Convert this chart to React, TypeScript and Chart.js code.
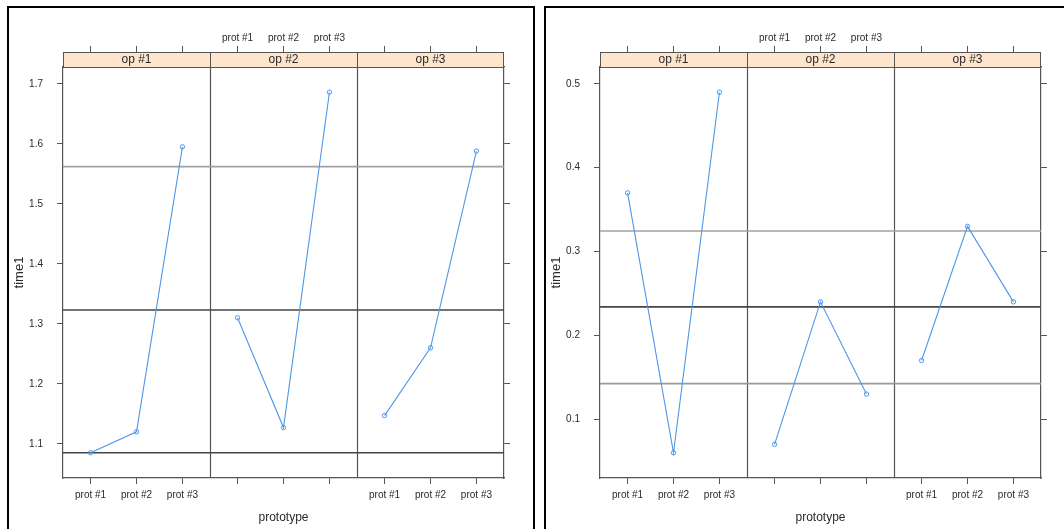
import React, { useEffect, useRef } from "react";
import { Chart, registerables } from "chart.js";

Chart.register(...registerables);

// ---------- data ----------
const prototypes = ["prot #1", "prot #2", "prot #3"];
const operators = ["op #1", "op #2", "op #3"];

// left figure: time1 per operator (rows) and prototype (columns)
const leftOp1 = [1.085, 1.12, 1.595];
const leftOp2 = [1.31, 1.127, 1.686];
const leftOp3 = [1.147, 1.26, 1.588];
const leftRefLines = [1.562, 1.323, 1.085];
const leftRefColors = ["#a2a2a2", "#454545", "#454545"];
const leftYTicks = [1.1, 1.2, 1.3, 1.4, 1.5, 1.6, 1.7];

// right figure
const rightOp1 = [0.37, 0.06, 0.49];
const rightOp2 = [0.07, 0.24, 0.13];
const rightOp3 = [0.17, 0.33, 0.24];
const rightRefLines = [0.3245, 0.234, 0.1425];
const rightRefColors = ["#a2a2a2", "#454545", "#9a9a9a"];
const rightYTicks = [0.1, 0.2, 0.3, 0.4, 0.5];

const yTitle = "time1";
const xTitle = "prototype";

// ---------- styles ----------
const FONT = "'Liberation Sans', Arial, sans-serif";
const BLUE = "#4f97e6";
const AXIS = "#555555";
const TEXT = "#2a2a2a";
const STRIP = "#FFE5CC";

type FigProps = {
  series: number[][];
  refLines: number[];
  refColors: string[];
  yTicks: number[];
  canvasWidth: number;
};

const CANVAS_H = 529;
const PLOT_LEFT = 63;
const PLOT_RIGHT = 504;
const PLOT_TOP = 67;
const PLOT_BOTTOM = 478;
const STRIP_H = 15;

function LatticeFigure({ series, refLines, refColors, yTicks, canvasWidth }: FigProps) {
  const ref = useRef<HTMLCanvasElement>(null);

  useEffect(() => {
    const canvas = ref.current;
    if (!canvas) return;
    const all = series.flat();
    const lo = Math.min(...all);
    const hi = Math.max(...all);
    const pad = 0.07 * (hi - lo);
    const yMin = lo - pad;
    const yMax = hi + pad;

    const nP = operators.length;
    const nC = prototypes.length;
    const span = nC + 0.2; // lattice factor limits: 0.4 .. n+0.6
    const xMax = nP * span;
    const pos = (p: number, j: number) => p * span + j + 0.6;
    const xTickVals: number[] = [];
    for (let p = 0; p < nP; p++) for (let j = 0; j < nC; j++) xTickVals.push(pos(p, j));

    const xLabel = (index: number, panels: number[]) => {
      const p = Math.floor(index / nC);
      return panels.includes(p) ? prototypes[index % nC] : "";
    };

    const lattice = {
      id: "lattice",
      beforeDatasetsDraw(chart: any) {
        const { ctx, chartArea: a, scales } = chart;
        const xs = scales.x;
        ctx.save();
        ctx.strokeStyle = AXIS;
        ctx.lineWidth = 1.2;
        for (let p = 1; p < nP; p++) {
          const px = Math.round(xs.getPixelForValue(p * span)) + 0.5;
          ctx.beginPath();
          ctx.moveTo(px, a.top);
          ctx.lineTo(px, a.bottom);
          ctx.stroke();
        }
        ctx.restore();
      },
      afterDraw(chart: any) {
        const { ctx, chartArea: a, scales } = chart;
        const xs = scales.x;
        const top = a.top - STRIP_H;
        ctx.save();
        ctx.fillStyle = STRIP;
        ctx.fillRect(a.left, top, a.right - a.left, STRIP_H);
        ctx.strokeStyle = AXIS;
        ctx.lineWidth = 1;
        ctx.strokeRect(a.left + 0.5, top + 0.5, a.right - a.left - 1, STRIP_H);
        ctx.font = `12px ${FONT}`;
        ctx.fillStyle = TEXT;
        ctx.textAlign = "center";
        ctx.textBaseline = "middle";
        for (let p = 0; p < nP; p++) {
          const l = xs.getPixelForValue(p * span);
          const r = xs.getPixelForValue((p + 1) * span);
          if (p > 0) {
            const px = Math.round(l) + 0.5;
            ctx.beginPath();
            ctx.moveTo(px, top);
            ctx.lineTo(px, a.top);
            ctx.stroke();
          }
          ctx.fillText(operators[p], (l + r) / 2, top + STRIP_H / 2 + 0.5);
        }
        ctx.restore();
      },
    };

    const tickFont = { family: FONT, size: 10 };
    const setX = (s: any) => {
      s.ticks = xTickVals.map((v) => ({ value: v }));
    };
    const setY = (s: any) => {
      s.ticks = yTicks.map((v) => ({ value: v }));
    };
    const gridCfg = (len: number) => ({
      drawOnChartArea: false,
      drawTicks: true,
      tickLength: len,
      color: AXIS,
      lineWidth: 1,
    });
    const borderCfg = { display: true, color: AXIS, width: 1.2 };

    const chart = new Chart(canvas, {
      type: "line",
      data: {
        datasets: [
          ...series.map((vals, p) => ({
            label: operators[p],
            data: vals.map((v, j) => ({ x: pos(p, j), y: v })),
            borderColor: BLUE,
            borderWidth: 1.1,
            pointRadius: 2.2,
            pointBorderWidth: 1,
            pointBorderColor: BLUE,
            pointBackgroundColor: "rgba(255,255,255,0)",
            tension: 0,
            order: 0,
          })),
          ...refLines.map((v, i) => ({
            label: "ref" + i,
            data: [
              { x: 0, y: v },
              { x: xMax, y: v },
            ],
            borderColor: refColors[i],
            borderWidth: 1.6,
            pointRadius: 0,
            order: 1,
          })),
        ],
      },
      options: {
        animation: false,
        responsive: false,
        maintainAspectRatio: false,
        layout: { padding: 0 },
        plugins: {
          legend: { display: false },
          tooltip: { enabled: false },
          title: { display: false },
        },
        scales: {
          x: {
            type: "linear",
            position: "bottom",
            min: 0,
            max: xMax,
            afterBuildTicks: setX,
            afterFit: (s: any) => {
              s.height = CANVAS_H - PLOT_BOTTOM;
            },
            grid: gridCfg(6),
            border: borderCfg,
            ticks: {
              autoSkip: false,
              maxRotation: 0,
              padding: 5,
              color: TEXT,
              font: tickFont,
              callback: (_v: any, i: number) => xLabel(i, [0, 2]),
            },
            title: {
              display: true,
              text: xTitle,
              color: TEXT,
              font: { family: FONT, size: 12 },
              padding: { top: 0, bottom: 4 },
            },
          },
          xTop: {
            type: "linear",
            position: "top",
            min: 0,
            max: xMax,
            afterBuildTicks: setX,
            afterFit: (s: any) => {
              s.height = PLOT_TOP;
            },
            grid: gridCfg(21),
            border: borderCfg,
            ticks: {
              autoSkip: false,
              maxRotation: 0,
              padding: 2,
              color: TEXT,
              font: tickFont,
              callback: (_v: any, i: number) => xLabel(i, [1]),
            },
          },
          y: {
            type: "linear",
            position: "left",
            min: yMin,
            max: yMax,
            afterBuildTicks: setY,
            afterFit: (s: any) => {
              s.width = PLOT_LEFT;
            },
            grid: gridCfg(6),
            border: borderCfg,
            ticks: {
              padding: 14,
              color: TEXT,
              font: tickFont,
              callback: (v: any) => Number(v).toFixed(1),
            },
            title: {
              display: true,
              text: yTitle,
              color: TEXT,
              font: { family: FONT, size: 13 },
              padding: { top: 12, bottom: 0 },
            },
          },
          yRight: {
            type: "linear",
            position: "right",
            min: yMin,
            max: yMax,
            afterBuildTicks: setY,
            afterFit: (s: any) => {
              s.width = canvasWidth - PLOT_RIGHT;
            },
            grid: gridCfg(6),
            border: borderCfg,
            ticks: {
              padding: 0,
              font: tickFont,
              callback: () => "",
            },
          },
        },
      },
      plugins: [lattice],
    } as any);

    return () => chart.destroy();
  }, [series, refLines, refColors, yTicks, canvasWidth]);

  return (
    <canvas
      ref={ref}
      width={canvasWidth}
      height={CANVAS_H}
      style={{ width: canvasWidth, height: CANVAS_H, display: "block" }}
    />
  );
}

const leftSeries = [leftOp1, leftOp2, leftOp3];
const rightSeries = [rightOp1, rightOp2, rightOp3];

export default function App() {
  return (
    <div
      style={{
        position: "fixed",
        left: 0,
        top: 0,
        width: 1064,
        height: 529,
        overflow: "hidden",
        background: "#ffffff",
      }}
    >
      <div style={{ position: "absolute", left: 0, top: 0 }}>
        <LatticeFigure
          series={leftSeries}
          refLines={leftRefLines}
          refColors={leftRefColors}
          yTicks={leftYTicks}
          canvasWidth={533}
        />
      </div>
      <div style={{ position: "absolute", left: 537, top: 0 }}>
        <LatticeFigure
          series={rightSeries}
          refLines={rightRefLines}
          refColors={rightRefColors}
          yTicks={rightYTicks}
          canvasWidth={527}
        />
      </div>
      <div
        style={{
          position: "absolute",
          left: 7,
          top: 6,
          width: 528,
          height: 600,
          boxSizing: "border-box",
          border: "2px solid #000",
          pointerEvents: "none",
        }}
      />
      <div
        style={{
          position: "absolute",
          left: 544,
          top: 6,
          width: 600,
          height: 600,
          boxSizing: "border-box",
          border: "2px solid #000",
          pointerEvents: "none",
        }}
      />
    </div>
  );
}
